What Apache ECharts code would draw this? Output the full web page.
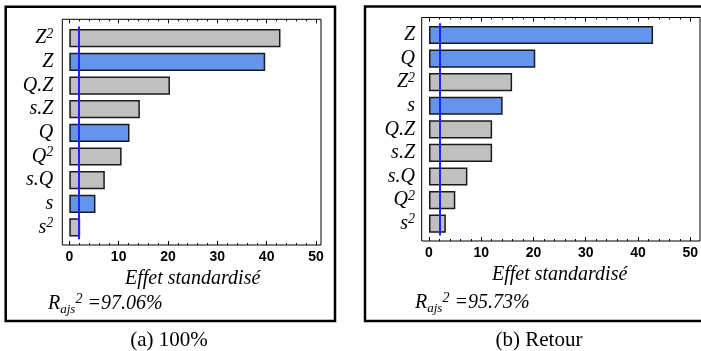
<!DOCTYPE html>
<html>
<head>
<meta charset="utf-8">
<script src="https://cdn.jsdelivr.net/npm/echarts@6/dist/echarts.min.js"></script>
<style>
  html, body { margin: 0; padding: 0; background: #fff; }
  #chart { width: 701px; height: 351px; }
</style>
</head>
<body>
<div id="chart"></div>
<script>
// panel (a) 100%
const catsA = ['Z^2', 'Z', 'Q.Z', 's.Z', 'Q', 'Q^2', 's.Q', 's', 's^2']
const valsA = [42.8, 39.7, 20.4, 14.3, 12.2, 10.6, 7.2, 5.3, 2.2]
// panel (b) Retour
const catsB = ['Z', 'Q', 'Z^2', 's', 'Q.Z', 's.Z', 's.Q', 'Q^2', 's^2']
const valsB = [42.6, 20.2, 15.8, 14.0, 12.0, 12.0, 7.3, 5.0, 3.2]
// limite de significativité
const limits = [1.96, 1.96]
const xTicks = [0, 10, 20, 30, 40, 50]
const r2Texts = ['=97.06%', '=95.73%']
const captions = ['(a) 100%', '(b) Retour']

const serif = '"Liberation Serif", "Times New Roman", serif'
const sans = '"Liberation Sans", Arial, sans-serif'

const chart = echarts.init(document.getElementById('chart'))

// main effects are blue, others grey
const isMain = c => c.indexOf('^') < 0 && c.indexOf('.') < 0

const labelRich = {
  v: { fontFamily: serif, fontStyle: 'italic', fontSize: 20, color: '#000', lineHeight: 22 },
  p: { fontFamily: serif, fontStyle: 'italic', fontSize: 14, color: '#000', verticalAlign: 'top', lineHeight: 10 }
}
const fmtCat = c => {
  const parts = c.split('^')
  return parts.length > 1 ? '{v|' + parts[0] + '}{p|' + parts[1] + '}' : '{v|' + c + '}'
}

// geometry of the two panels (frame box, tick box, bar band)
const geo = [
  { f: [62.3, 19.3, 258.7, 225.7], t: [69.3, 19.3, 246.7, 225.7], b: [69.3, 26.4, 246.7, 212.9], lm: 16 },
  { f: [421.7, 17.5, 278.3, 223.5], t: [429, 17.5, 263, 223.5], b: [429, 23.2, 263, 212.3], lm: 14 }
]

const grid = [], xAxis = [], yAxis = [], series = []
const panels = [[catsA, valsA], [catsB, valsB]]

panels.forEach(([cats, vals], i) => {
  const g = geo[i]
  const gi = grid.length
  const box = r => ({ left: r[0], top: r[1], width: r[2], height: r[3] })
  grid.push(Object.assign({ show: true, borderColor: '#000', borderWidth: 1, backgroundColor: 'transparent' }, box(g.f)))
  grid.push(box(g.t))
  grid.push(box(g.b))

  // frame grid
  xAxis.push({ gridIndex: gi, type: 'value', show: false })
  yAxis.push({ gridIndex: gi, type: 'value', show: false })

  // tick grid
  const tickAxis = pos => ({
    gridIndex: gi + 1, type: 'value', position: pos,
    min: xTicks[0], max: xTicks[xTicks.length - 1], interval: xTicks[1] - xTicks[0],
    axisLine: { show: false, onZero: false },
    axisTick: { show: true, inside: true, length: 4, lineStyle: { color: '#000' } },
    minorTick: { show: true, splitNumber: 5, length: 2, lineStyle: { color: '#000' } },
    splitLine: { show: false },
    axisLabel: {
      show: pos === 'bottom', margin: 5, color: '#000',
      fontFamily: sans, fontWeight: 'bold', fontSize: 14
    },
    name: pos === 'bottom' ? 'Effet standardisé' : '',
    nameLocation: 'middle', nameGap: 14,
    nameTextStyle: { fontFamily: serif, fontStyle: 'italic', fontSize: 20, color: '#000' }
  })
  xAxis.push(tickAxis('bottom'))
  xAxis.push(tickAxis('top'))
  yAxis.push({ gridIndex: gi + 1, type: 'value', show: false })

  // bar grid
  const xb = xAxis.length
  xAxis.push({ gridIndex: gi + 2, type: 'value', min: xTicks[0], max: xTicks[xTicks.length - 1], show: false })
  const yb = yAxis.length
  yAxis.push({
    gridIndex: gi + 2, type: 'category', inverse: true, data: cats,
    axisLine: { show: false }, axisTick: { show: false },
    axisLabel: { margin: g.lm, formatter: fmtCat, rich: labelRich }
  })

  series.push({
    type: 'bar', xAxisIndex: xb, yAxisIndex: yb,
    barCategoryGap: '23%',
    data: vals.map((v, k) => ({
      value: v,
      itemStyle: { color: isMain(cats[k]) ? '#6495ed' : '#c0c0c0' }
    })),
    itemStyle: { borderColor: '#1a1a1a', borderWidth: 1.5 },
    silent: true,
    markLine: {
      silent: true, symbol: 'none', animation: false,
      label: { show: false },
      lineStyle: { color: '#2222ff', width: 2, type: 'solid' },
      data: [{ xAxis: limits[i] }]
    }
  })
})

const r2Rich = {
  a: { fontFamily: serif, fontStyle: 'italic', fontSize: 20, fill: '#000', lineHeight: 24 },
  s: { fontFamily: serif, fontStyle: 'italic', fontSize: 13, fill: '#000', verticalAlign: 'bottom', lineHeight: 12 },
  u: { fontFamily: serif, fontStyle: 'italic', fontSize: 14, fill: '#000', verticalAlign: 'top', lineHeight: 10 }
}

const graphic = [
  { type: 'rect', shape: { x: 5.7, y: 6.7, width: 329.3, height: 314.3 }, style: { fill: 'none', stroke: '#000', lineWidth: 2.5 } },
  { type: 'rect', shape: { x: 365, y: 6.5, width: 350, height: 314.5 }, style: { fill: 'none', stroke: '#000', lineWidth: 2.5 } },
  { type: 'text', x: 48, y: 304, style: { text: '{a|R}{s|ajs}{u|2}{a| ' + r2Texts[0] + '}', rich: r2Rich, verticalAlign: 'middle' } },
  { type: 'text', x: 415, y: 303, style: { text: '{a|R}{s|ajs}{u|2}{a| ' + r2Texts[1] + '}', rich: r2Rich, verticalAlign: 'middle' } },
  { type: 'text', x: 169, y: 340, style: { text: captions[0], font: '21px ' + serif, fill: '#000', align: 'center', verticalAlign: 'middle' } },
  { type: 'text', x: 539, y: 340, style: { text: captions[1], font: '21px ' + serif, fill: '#000', align: 'center', verticalAlign: 'middle' } }
]

chart.setOption({
  animation: false,
  backgroundColor: '#fff',
  grid, xAxis, yAxis, series, graphic
})
</script>
</body>
</html>
